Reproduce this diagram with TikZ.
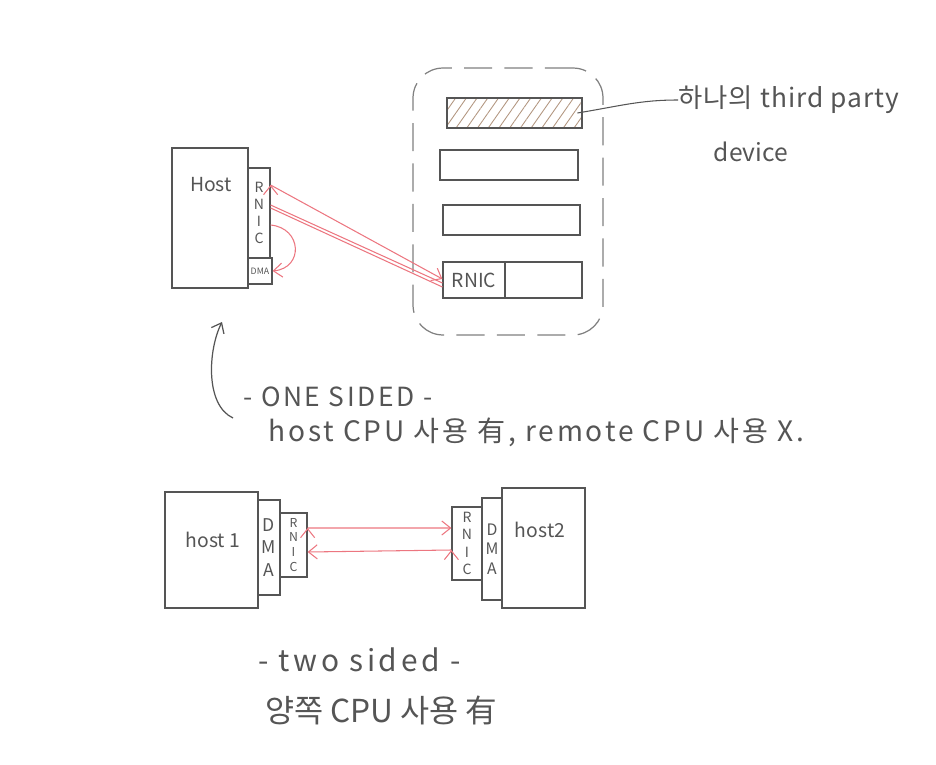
\documentclass[tikz,border=0pt]{standalone}
\usepackage{fontspec}
\setmainfont{Noto Sans CJK KR}
\usetikzlibrary{arrows.meta,patterns.meta}
\definecolor{pencil}{RGB}{85,85,85}
\definecolor{redpen}{RGB}{236,118,128}
\definecolor{hatch}{RGB}{178,150,128}
\definecolor{outline}{RGB}{128,128,128}

\begin{document}
\begin{tikzpicture}[x=0.02cm, y=-0.02cm,
    box/.style={draw=pencil, line width=0.7pt, inner sep=0pt, text=pencil},
    letters/.style={box, align=center},
    slotbox/.style={box, minimum height=0.6cm},
    redline/.style={draw=redpen, line width=0.6pt},
    tip/.style={-{Straight Barb[length=5pt, width=8pt]}},
    words/.style={text=pencil, inner sep=0pt, anchor=west}]
  \useasboundingbox (0,0) rectangle (936,764);

  % One sided: host side
  \node[box, minimum width=1.52cm, minimum height=2.8cm] at (210,218) (host) {};
  \node[words, anchor=center, font=\fontsize{11}{13}\selectfont] at (211,185) (hostT) {Host};
  \node[letters, minimum width=0.44cm, minimum height=1.8cm, font=\fontsize{8}{9.6}\selectfont] at (259,213) (rnicA) {R\\N\\I\\C};
  \node[letters, minimum width=0.48cm, minimum height=0.52cm, font=\fontsize{5}{6}\selectfont] at (260,271) (dmaA) {DMA};

  % One sided: third party device
  \node[draw=outline, dash pattern=on 16pt off 7pt, rounded corners=0.6cm, line width=0.7pt, minimum width=3.8cm, minimum height=5.34cm] at (508,201.5) (dev) {};
  \node[slotbox, minimum width=2.7cm, pattern={Lines[angle=55, distance=5pt, line width=0.5pt]}, pattern color=hatch] at (514.5,113) (slotA) {};
  \node[slotbox, minimum width=2.76cm] at (509,165) (slotB) {};
  \node[slotbox, minimum width=2.74cm] at (511.5,220) (slotC) {};
  \node[slotbox, minimum width=2.78cm, minimum height=0.72cm] at (512.5,280) (slotD) {};
  \node[box, minimum width=1.24cm, minimum height=0.72cm, font=\fontsize{11}{13}\selectfont] at (474,280) (rnicB) {RNIC};

  \node[words, font=\fontsize{15}{17}\selectfont\addfontfeature{LetterSpace=4}] at (678,100) (tpd) {하나의 third party};
  \node[words, anchor=center, font=\fontsize{14}{16}\selectfont] at (751,152) (tpdB) {device};
  \draw[pencil, line width=0.6pt] ([xshift=-0.1cm]slotA.east) .. controls (620,106) and (640,100) .. (tpd.west);

  % RDMA paths
  \draw[redline, tip] ([yshift=0.56cm]rnicA.east) edge ([yshift=0.02cm]rnicB.west);
  \draw[redline] ([yshift=0.16cm]rnicA.east) edge ([yshift=-0.06cm]rnicB.west);
  \draw[redline] ([yshift=0.1cm]rnicA.east) edge ([yshift=-0.14cm]rnicB.west);
  \draw[redline, tip] ([yshift=-0.24cm]rnicA.east) .. controls (302,228) and (304,268) .. (dmaA.east);

  % Caption one sided
  \coordinate (arrS) at (233,418);
  \coordinate (arrE) at (222,322);
  \draw[pencil, line width=0.7pt, tip] (arrS) .. controls (205,405) and (208,350) .. (arrE);
  \node[words, font=\fontsize{15}{17}\selectfont\addfontfeature{LetterSpace=10}] at (243,397) (oneT) {- ONE SIDED -};
  \node[words, font=\fontsize{16}{18}\selectfont\addfontfeature{LetterSpace=10}] at (268,432) (oneD) {host CPU 사용 有, remote CPU 사용 X.};

  % Two sided
  \node[box, minimum width=1.86cm, minimum height=2.32cm] at (211.5,550) (hostA) {};
  \node[words, anchor=center, font=\fontsize{11}{13}\selectfont] at (213,540) (hostAT) {host 1};
  \node[letters, minimum width=0.44cm, minimum height=1.9cm, font=\fontsize{10}{13}\selectfont] at (269,547.5) (dmaB) {D\\M\\A};
  \node[letters, minimum width=0.54cm, minimum height=1.28cm, font=\fontsize{7}{8.5}\selectfont] at (293.5,545) (rnicC) {R\\N\\I\\C};

  \node[box, minimum width=1.66cm, minimum height=2.4cm] at (543.5,548) (hostB) {};
  \node[words, anchor=center, font=\fontsize{11}{13}\selectfont] at (540,530) (hostBT) {host2};
  \node[letters, minimum width=0.4cm, minimum height=2.04cm, font=\fontsize{9}{11}\selectfont] at (492,549) (dmaC) {D\\M\\A};
  \node[letters, minimum width=0.6cm, minimum height=1.46cm, font=\fontsize{8}{10}\selectfont] at (467,543.5) (rnicD) {R\\N\\I\\C};

  \draw[redline, tip] ([yshift=0.34cm]rnicC.east) edge ([yshift=0.31cm]rnicD.west);
  \draw[redline, tip] ([yshift=-0.13cm]rnicD.west) edge ([yshift=-0.14cm]rnicC.east);

  % Caption two sided
  \node[words, font=\fontsize{17}{19}\selectfont\addfontfeature{LetterSpace=12}] at (258,660) (twoT) {- two sided -};
  \node[words, font=\fontsize{18}{20}\selectfont] at (265,710) (twoD) {양쪽 CPU 사용 有};
\end{tikzpicture}
\end{document}
